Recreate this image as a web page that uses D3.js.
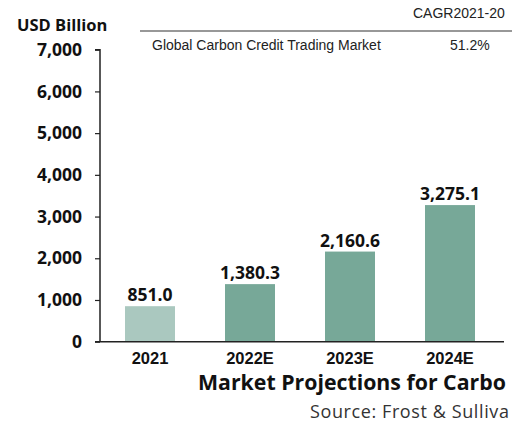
<!DOCTYPE html>
<html>
<head>
<meta charset="utf-8">
<script src="https://cdn.jsdelivr.net/npm/d3@7"></script>
<style>
  html, body { margin: 0; padding: 0; background: #fff; overflow: hidden; }
  svg { display: block; }
</style>
</head>
<body>
<svg id="chart"></svg>
<script>
// chart data (texts on the right are cut off in the source picture)
const years = ['2021', '2022E', '2023E', '2024E'];
const values = [851.0, 1380.3, 2160.6, 3275.1];
const yTicks = [0, 1000, 2000, 3000, 4000, 5000, 6000, 7000];
const cagrLabel = 'CAGR2021-20';
const cagrSeries = 'Global Carbon Credit Trading Market';
const cagrValue = '51.2%';
const titleText = 'Market Projections for Carbo';
const sourceText = 'Source: Frost & Sulliva';

const width = 512, height = 427;
const geo = "'Open Sans', 'Lato', sans-serif";
const arial = "'Liberation Sans', Arial, sans-serif";

const svg = d3.select('#chart')
    .attr('width', width)
    .attr('height', height);

// scales
const xScale = d3.scaleBand()
    .domain(years)
    .range([100, 500])
    .paddingInner(0.5)
    .paddingOuter(0.25);

const yScale = d3.scaleLinear()
    .domain([0, 7000])
    .range([341.7, 49.7]);

// bars
svg.append('g')
    .selectAll('rect')
    .data(years)
    .join('rect')
    .attr('x', d => xScale(d))
    .attr('width', xScale.bandwidth())
    .attr('y', (d, i) => yScale(values[i]))
    .attr('height', (d, i) => yScale(0) - yScale(values[i]))
    .attr('fill', (d, i) => i === 0 ? '#aac8bf' : '#77a898');

// value labels
svg.append('g')
    .selectAll('text')
    .data(years)
    .join('text')
    .attr('x', d => xScale(d) + xScale.bandwidth() / 2)
    .attr('y', (d, i) => yScale(values[i]) - 5)
    .attr('text-anchor', 'middle')
    .style('font-family', geo)
    .style('font-weight', 700)
    .style('font-size', '17.5px')
    .attr('fill', '#111')
    .text((d, i) => d3.format(',.1f')(values[i]));

// y axis
const yAxis = d3.axisLeft(yScale)
    .tickValues(yTicks)
    .tickFormat(d3.format(','))
    .tickSize(5)
    .tickPadding(13);

const yAxisG = svg.append('g')
    .attr('transform', 'translate(100,0)')
    .call(yAxis);
yAxisG.select('.domain').attr('stroke', '#222').attr('stroke-width', 1.5)
    .attr('d', `M-5,${yScale(7000)}H0V${yScale(0)}`);
yAxisG.selectAll('.tick line').attr('stroke', '#222').attr('stroke-width', 1.2);
yAxisG.selectAll('.tick text')
    .style('font-family', geo)
    .style('font-weight', 700)
    .style('font-size', '17.5px')
    .attr('fill', '#111');

// x axis
const xAxis = d3.axisBottom(xScale)
    .tickSize(0)
    .tickPadding(11);

const xAxisG = svg.append('g')
    .attr('transform', `translate(0,${yScale(0)})`)
    .call(xAxis);
xAxisG.select('.domain').attr('stroke', '#222').attr('stroke-width', 1.5)
    .attr('d', 'M95,0H504');
xAxisG.selectAll('.tick text')
    .style('font-family', arial)
    .style('font-weight', 700)
    .style('font-size', '16.5px')
    .attr('fill', '#111');

// unit label
svg.append('text')
    .attr('x', 17)
    .attr('y', 31)
    .style('font-family', geo)
    .style('font-weight', 700)
    .style('font-size', '16.5px')
    .attr('fill', '#111')
    .text('USD Billion');

// CAGR table
svg.append('text')
    .attr('x', 413)
    .attr('y', 18)
    .style('font-family', arial)
    .style('font-size', '14px')
    .attr('fill', '#222')
    .text(cagrLabel);

svg.append('line')
    .attr('x1', 140).attr('x2', 512)
    .attr('y1', 31).attr('y2', 31)
    .attr('stroke', '#333')
    .attr('stroke-width', 1.2);

svg.append('text')
    .attr('x', 152)
    .attr('y', 50)
    .style('font-family', arial)
    .style('font-size', '14px')
    .attr('fill', '#222')
    .text(cagrSeries);

svg.append('text')
    .attr('x', 450)
    .attr('y', 50)
    .style('font-family', arial)
    .style('font-size', '14px')
    .attr('fill', '#222')
    .text(cagrValue);

// title and source
svg.append('text')
    .attr('x', 198)
    .attr('y', 390)
    .style('font-family', geo)
    .style('font-weight', 700)
    .style('font-size', '21.3px')
    .attr('fill', '#111')
    .text(titleText);

svg.append('text')
    .attr('x', 310)
    .attr('y', 418)
    .style('font-family', geo)
    .style('font-size', '18px')
    .style('letter-spacing', '0.6px')
    .attr('fill', '#333')
    .text(sourceText);
</script>
</body>
</html>
